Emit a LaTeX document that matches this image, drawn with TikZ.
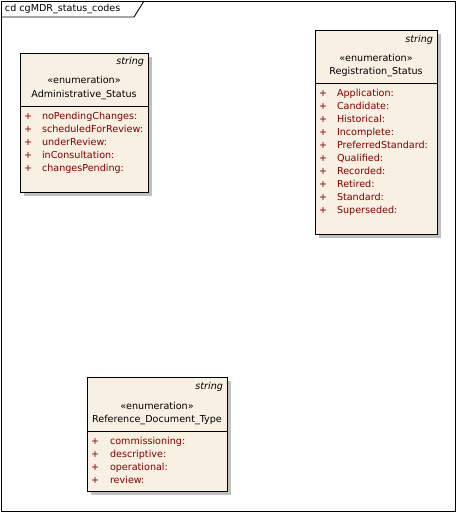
\documentclass[tikz,border=0pt]{standalone}
\usepackage{fontspec}
\setmainfont{DejaVu Sans}
\definecolor{boxfill}{RGB}{248,240,226}
\definecolor{attr}{RGB}{128,0,0}
\definecolor{shade}{RGB}{192,192,192}
\begin{document}
\begin{tikzpicture}[x=1pt,y=-1pt,
  every node/.style={inner sep=0pt,outer sep=0pt,font=\fontsize{9.6}{11}\selectfont},
  classbox/.style={draw=black,fill=boxfill,line width=1pt},
  shadowbox/.style={fill=shade,draw=none},
  attrtext/.style={anchor=mid west,text=attr},
  plus/.style={anchor=mid west,text=attr},
  stype/.style={anchor=mid east,font=\fontsize{9.6}{11}\selectfont\itshape},
  cname/.style={anchor=mid}]
\useasboundingbox (0,0) rectangle (457,512);
\fill[white] (0,0) rectangle (457,512);
% frame
\draw[line width=0.9pt] (1,1) rectangle (455.5,511);
\draw[line width=0.9pt] (1,17) -- (134,17) -- (144,1);
\node[anchor=mid west] (title) at (5,9) {cd cgMDR\_status\_codes};

% Administrative_Status
\fill[shadowbox] (24,57) rectangle (152,196);
\draw[classbox] (20,53) rectangle (148,192);
\draw[line width=0.8pt] (20,106) -- (148,106);
\node[stype] (a0) at (144,62) {string};
\node[cname] (a1) at (84,81) {«enumeration»};
\node[cname] (a2) at (84,95) {Administrative\_Status};
\foreach \t [count=\i from 0] in {noPendingChanges:,scheduledForReview:,underReview:,inConsultation:,changesPending:}{
  \node[plus] (ap\i) at (24,117+13*\i) {+};
  \node[attrtext] (at\i) at (42,117+13*\i) {\t};
}

% Registration_Status
\fill[shadowbox] (319,34) rectangle (441,238);
\draw[classbox] (315,30) rectangle (437,234);
\draw[line width=0.8pt] (315,83) -- (437,83);
\node[stype] (r0) at (433,40) {string};
\node[cname] (r1) at (376,59) {«enumeration»};
\node[cname] (r2) at (376,72) {Registration\_Status};
\foreach \t [count=\i from 0] in {Application:,Candidate:,Historical:,Incomplete:,PreferredStandard:,Qualified:,Recorded:,Retired:,Standard:,Superseded:}{
  \node[plus] (rp\i) at (319,94+13*\i) {+};
  \node[attrtext] (rt\i) at (337,94+13*\i) {\t};
}

% Reference_Document_Type
\fill[shadowbox] (91,381) rectangle (231,495);
\draw[classbox] (87,377) rectangle (227,491);
\draw[line width=0.8pt] (87,431) -- (227,431);
\node[stype] (d0) at (223,387) {string};
\node[cname] (d1) at (157,407) {«enumeration»};
\node[cname] (d2) at (157,420) {Reference\_Document\_Type};
\foreach \t [count=\i from 0] in {commissioning:,descriptive:,operational:,review:}{
  \node[plus] (dp\i) at (91,442+13*\i) {+};
  \node[attrtext] (dt\i) at (110,442+13*\i) {\t};
}
\end{tikzpicture}
\end{document}
